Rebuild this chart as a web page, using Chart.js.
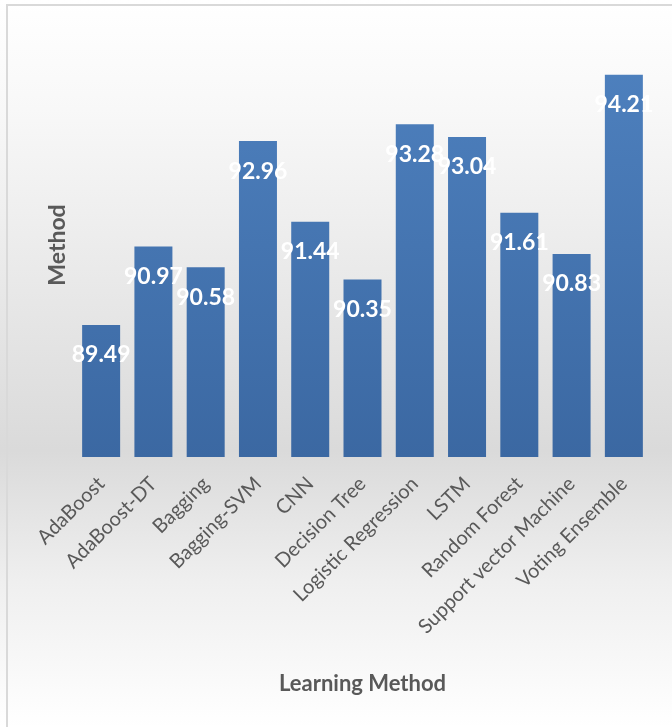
<!DOCTYPE html>
<html>
<head>
<meta charset="utf-8">
<script src="https://cdn.jsdelivr.net/npm/chart.js@4.4.1/dist/chart.umd.min.js"></script>
<style>
  html, body { margin: 0; padding: 0; background: #fff; }
  #wrap { position: relative; width: 672px; height: 727px; }
</style>
</head>
<body>
<div id="wrap"><canvas id="chart" width="672" height="727"></canvas></div>
<script>
// data
const methods = ['AdaBoost', 'AdaBoost-DT', 'Bagging', 'Bagging-SVM', 'CNN', 'Decision Tree',
  'Logistic Regression', 'LSTM', 'Random Forest', 'Support vector Machine', 'Voting Ensemble'];
const accuracy = [89.49, 90.97, 90.58, 92.96, 91.44, 90.35, 93.28, 93.04, 91.61, 90.83, 94.21];
const axisMin = 87;
const axisMax = 95;

const textGray = '#595959';

// gray gradient background + thin frame on top/left
const backdrop = {
  id: 'backdrop',
  beforeDraw(chart) {
    const { ctx, width, height } = chart;
    ctx.save();
    const g = ctx.createLinearGradient(0, 0, 0, height);
    g.addColorStop(0, '#ffffff');
    g.addColorStop(0.15, '#f8f8f8');
    g.addColorStop(0.62, '#dadada');
    g.addColorStop(0.8, '#efefef');
    g.addColorStop(1, '#ffffff');
    ctx.fillStyle = g;
    ctx.fillRect(0, 0, width, height);
    ctx.strokeStyle = '#d9d9d9';
    ctx.lineWidth = 2;
    ctx.beginPath();
    ctx.moveTo(7, height);
    ctx.lineTo(7, 5);
    ctx.lineTo(width, 5);
    ctx.stroke();
    ctx.restore();
  },
  // soft diagonal shadow at the foot of every bar
  beforeDatasetsDraw(chart) {
    const { ctx } = chart;
    ctx.save();
    ctx.filter = 'blur(4px)';
    ctx.strokeStyle = 'rgba(0,0,0,0.26)';
    ctx.lineWidth = 13;
    ctx.lineCap = 'round';
    chart.getDatasetMeta(0).data.forEach(bar => {
      const r = bar.x + bar.width / 2;
      const b = bar.base;
      ctx.beginPath();
      ctx.moveTo(r - 4, b - 8);
      ctx.lineTo(r + 24, b - 36);
      ctx.stroke();
    });
    ctx.restore();
  }
};

// white value labels just inside the bar tops
const valueLabels = {
  id: 'valueLabels',
  afterDatasetsDraw(chart) {
    const { ctx } = chart;
    const meta = chart.getDatasetMeta(0);
    ctx.save();
    ctx.font = 'bold 23px Lato';
    ctx.fillStyle = '#ffffff';
    ctx.textAlign = 'center';
    ctx.textBaseline = 'middle';
    meta.data.forEach((bar, i) => {
      ctx.fillText(accuracy[i].toFixed(2), bar.x, bar.y + 30);
    });
    ctx.restore();
  }
};

new Chart(document.getElementById('chart'), {
  type: 'bar',
  data: {
    labels: methods,
    datasets: [{
      data: accuracy,
      backgroundColor(c) {
        const area = c.chart.chartArea;
        if (!area) return '#4676b2';
        const g = c.chart.ctx.createLinearGradient(0, area.top, 0, area.bottom);
        g.addColorStop(0, '#4f82c0');
        g.addColorStop(1, '#3b68a2');
        return g;
      },
      borderWidth: 0,
      barPercentage: 0.727,
      categoryPercentage: 1
    }]
  },
  options: {
    responsive: false,
    animation: false,
    layout: { padding: { left: 40, right: 22, top: 33, bottom: 30 } },
    plugins: {
      legend: { display: false },
      tooltip: { enabled: false }
    },
    scales: {
      x: {
        grid: { display: false },
        border: { display: false },
        afterFit(scale) {
          scale.paddingLeft = 0;
          scale.paddingRight = 0;
          scale.height = 240;
        },
        ticks: {
          autoSkip: false,
          minRotation: 45,
          maxRotation: 45,
          color: textGray,
          padding: 7,
          font: { family: 'Lato', size: 20 }
        },
        title: {
          display: true,
          text: 'Learning Method',
          color: textGray,
          padding: { top: 0, bottom: 0 },
          font: { family: 'Lato', size: 22, weight: 'bold' }
        }
      },
      y: {
        min: axisMin,
        max: axisMax,
        grid: { display: false },
        border: { display: false },
        ticks: { display: false },
        afterFit(scale) { scale.width = 35; },
        title: {
          display: true,
          text: 'Method',
          color: textGray,
          padding: { top: 4, bottom: 3 },
          font: { family: 'Lato', size: 23, weight: 'bold' }
        }
      }
    }
  },
  plugins: [backdrop, valueLabels]
});
</script>
</body>
</html>
